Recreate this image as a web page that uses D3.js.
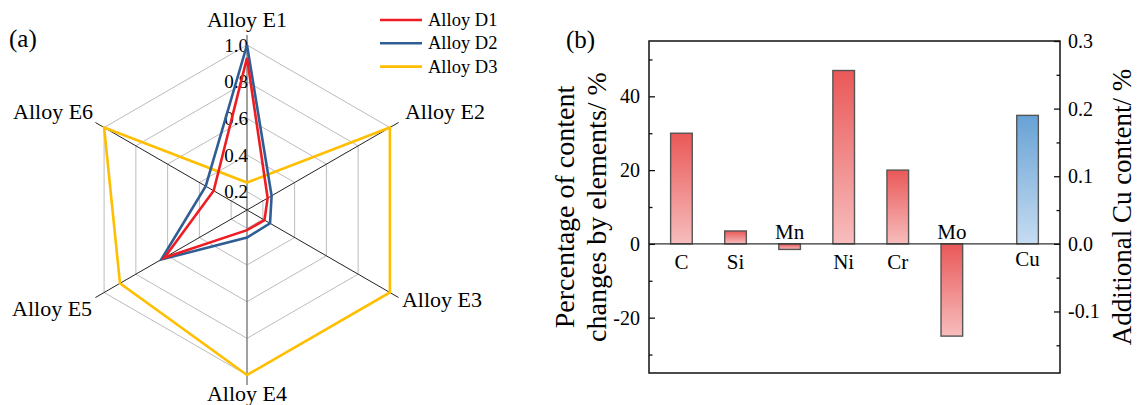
<!DOCTYPE html>
<html><head><meta charset="utf-8">
<script src="https://cdn.jsdelivr.net/npm/d3@7"></script>
<style>
body{margin:0;background:#fff}
svg{display:block}
text{font-family:"Liberation Serif","Times New Roman",serif;fill:#000}
</style>
</head><body>
<svg id="chart" width="1137" height="405"></svg>
<script>
// ---------- data: panel (a) radar ----------
const radarAxes = ["Alloy E1","Alloy E2","Alloy E3","Alloy E4","Alloy E5","Alloy E6"];
const radarSeries = ["Alloy D1","Alloy D2","Alloy D3"];
const d1Values = [0.93, 0.23, 0.21, 0.21, 0.62, 0.31];
const d2Values = [1.00, 0.255, 0.245, 0.25, 0.64, 0.36];
const d3Values = [0.25, 1.00, 1.00, 1.00, 0.90, 1.00];
const radarTicks = [0.2, 0.4, 0.6, 0.8, 1.0];
const radarTickLabels = ["0.2","0.4","0.6","0.8","1.0"];
const radarDomain = [0.1, 1.0];

// ---------- data: panel (b) bars ----------
const elements = ["C","Si","Mn","Ni","Cr","Mo"];
const elementPos = [1, 2, 3, 4, 5, 6];
const elementChange = [30, 3.5, -1.5, 47, 20, -25];
const cuLabel = "Cu";
const cuPos = 7.4;
const cuValue = 0.19;
const xDomain = [0.4, 8];
const yLeftDomain = [-35, 55];
const yRightDomain = [-0.191, 0.3];
const yLeftTicks = [-20, 0, 20, 40];
const yLeftMinor = [-30, -10, 10, 30, 50];
const yRightTicks = [-0.1, 0, 0.1, 0.2, 0.3];
const yRightMinor = [-0.15, -0.05, 0.05, 0.15, 0.25];
const leftTitle = ["Percentage of content", "changes by elements/ %"];
const rightTitle = "Additional Cu content/ %";

const svg = d3.select("#chart");

// ================= panel (a) =================
const cx = 247, cy = 210, R = 165;
const rScale = d3.scaleLinear().domain(radarDomain).range([0, R]);
const ang = i => i * Math.PI / 3;           // clockwise from 12 o'clock
const px = (i, r) => cx + r * Math.sin(ang(i));
const py = (i, r) => cy - r * Math.cos(ang(i));
const gA = svg.append("g");

const radial = d3.lineRadial()
  .angle((d, i) => ang(i))
  .radius(d => rScale(d))
  .curve(d3.curveLinearClosed);

// grid rings
radarTicks.forEach(t => {
  gA.append("path")
    .attr("transform", `translate(${cx},${cy})`)
    .attr("d", radial(radarAxes.map(() => t)))
    .attr("fill", "none").attr("stroke", "#bcbcbc").attr("stroke-width", 1);
});

// spokes
radarAxes.forEach((a, i) => {
  const vertical = (i === 0 || i === 3);
  gA.append("line")
    .attr("x1", cx).attr("y1", cy)
    .attr("x2", px(i, R + 10)).attr("y2", py(i, R + 10))
    .attr("stroke", vertical ? "#7a7a7a" : "#222")
    .attr("stroke-width", vertical ? 1.4 : 1);
});

// tick labels on E1 axis
radarTicks.forEach((t, k) => {
  gA.append("text")
    .attr("x", cx + 1).attr("y", cy - rScale(t))
    .attr("dy", "0.35em").attr("text-anchor", "end")
    .style("font-size", "19px").text(radarTickLabels[k]);
});

// axis labels
const labOff = [[0,-18,"middle"],[15,-9,"start"],[12,14,"start"],[0,26,"middle"],[-12,23,"end"],[-11,-9,"end"]];
radarAxes.forEach((a, i) => {
  gA.append("text")
    .attr("x", px(i, R) + labOff[i][0]).attr("y", py(i, R) + labOff[i][1])
    .attr("text-anchor", labOff[i][2])
    .style("font-size", "22px").text(a);
});

const seriesData = [d1Values, d2Values, d3Values];
const seriesColors = ["#ee1d23", "#2f5e94", "#ffbf00"];
[2, 1, 0].forEach(s => {
  gA.append("path")
    .attr("transform", `translate(${cx},${cy})`)
    .attr("d", radial(seriesData[s]))
    .attr("fill", "none").attr("stroke", seriesColors[s])
    .attr("stroke-width", 2.6).attr("stroke-linejoin", "miter");
});

// legend
radarSeries.forEach((name, k) => {
  const ly = 20 + k * 23.3;
  gA.append("line").attr("x1", 380).attr("x2", 422).attr("y1", ly).attr("y2", ly)
    .attr("stroke", seriesColors[k]).attr("stroke-width", 2.6);
  gA.append("text").attr("x", 428).attr("y", ly + 6)
    .style("font-size", "18.5px").text(name);
});

svg.append("text").attr("x", 9).attr("y", 47).style("font-size", "25px").text("(a)");

// ================= panel (b) =================
const L = 649, Rt = 1060, T = 41, B = 373;
const x = d3.scaleLinear().domain(xDomain).range([L, Rt]);
const yL = d3.scaleLinear().domain(yLeftDomain).range([B, T]);
const yR = d3.scaleLinear().domain(yRightDomain).range([B, T]);
const gB = svg.append("g");
const bw = x(xDomain[0] + 0.4) - x(xDomain[0]);

const defs = svg.append("defs");
const redG = defs.append("linearGradient").attr("id", "redG").attr("x1", 0).attr("y1", 0).attr("x2", 0).attr("y2", 1);
redG.append("stop").attr("offset", "0%").attr("stop-color", "#ea5858");
redG.append("stop").attr("offset", "100%").attr("stop-color", "#f7bdbd");
const blueG = defs.append("linearGradient").attr("id", "blueG").attr("x1", 0).attr("y1", 0).attr("x2", 0).attr("y2", 1);
blueG.append("stop").attr("offset", "0%").attr("stop-color", "#68a2d5");
blueG.append("stop").attr("offset", "100%").attr("stop-color", "#c6dcf1");

const y0 = yL(0);
// red bars
elements.forEach((e, i) => {
  const v = elementChange[i];
  const yt = Math.min(yL(v), y0), h = Math.abs(yL(v) - y0);
  gB.append("rect").attr("x", x(elementPos[i]) - bw / 2).attr("y", yt)
    .attr("width", bw).attr("height", h)
    .attr("fill", "url(#redG)").attr("stroke", "#555").attr("stroke-width", 1.4);
  gB.append("text").attr("x", x(elementPos[i]))
    .attr("y", v >= 0 ? y0 + 25 : y0 - 5)
    .attr("text-anchor", "middle").style("font-size", "21px").text(e);
});
// Cu bar (right axis)
gB.append("rect").attr("x", x(cuPos) - bw / 2).attr("y", yR(cuValue))
  .attr("width", bw).attr("height", yR(0) - yR(cuValue))
  .attr("fill", "url(#blueG)").attr("stroke", "#555").attr("stroke-width", 1.4);
gB.append("text").attr("x", x(cuPos)).attr("y", yR(0) + 22)
  .attr("text-anchor", "middle").style("font-size", "21px").text(cuLabel);

// zero line
gB.append("line").attr("x1", L).attr("x2", Rt).attr("y1", y0).attr("y2", y0)
  .attr("stroke", "#333").attr("stroke-width", 1.4);

// frame
gB.append("rect").attr("x", L).attr("y", T).attr("width", Rt - L).attr("height", B - T)
  .attr("fill", "none").attr("stroke", "#111").attr("stroke-width", 1.5);

// left axis
const axL = d3.axisRight(yL).tickValues(yLeftTicks).tickSize(6).tickFormat(d => String(d));
const gl = gB.append("g").attr("transform", `translate(${L},0)`).call(axL);
gl.select(".domain").remove();
gl.selectAll(".tick line").attr("stroke", "#111").attr("stroke-width", 1.3);
gl.selectAll(".tick text").attr("x", -9).attr("text-anchor", "end")
  .style("font-size", "20px").style("font-family", '"Liberation Serif",serif').attr("fill", "#000");
const glm = gB.append("g").attr("transform", `translate(${L},0)`)
  .call(d3.axisRight(yL).tickValues(yLeftMinor).tickSize(3.5).tickFormat(""));
glm.select(".domain").remove();
glm.selectAll(".tick line").attr("stroke", "#111").attr("stroke-width", 1.3);

// right axis
const axR = d3.axisLeft(yR).tickValues(yRightTicks).tickSize(6).tickFormat(d => d.toFixed(1));
const gr = gB.append("g").attr("transform", `translate(${Rt},0)`).call(axR);
gr.select(".domain").remove();
gr.selectAll(".tick line").attr("stroke", "#111").attr("stroke-width", 1.3);
gr.selectAll(".tick text").attr("x", 8).attr("text-anchor", "start")
  .style("font-size", "20px").style("font-family", '"Liberation Serif",serif').attr("fill", "#000");
const grm = gB.append("g").attr("transform", `translate(${Rt},0)`)
  .call(d3.axisLeft(yR).tickValues(yRightMinor).tickSize(3.5).tickFormat(""));
grm.select(".domain").remove();
grm.selectAll(".tick line").attr("stroke", "#111").attr("stroke-width", 1.3);

// titles
const midY = (T + B) / 2;
leftTitle.forEach((t, k) => {
  gB.append("text")
    .attr("transform", `translate(${574 + k * 32},${midY}) rotate(-90)`)
    .attr("text-anchor", "middle").style("font-size", "28px").text(t);
});
gB.append("text")
  .attr("transform", `translate(1131,${midY}) rotate(-90)`)
  .attr("text-anchor", "middle").style("font-size", "27px").text(rightTitle);

svg.append("text").attr("x", 566).attr("y", 48).style("font-size", "25px").text("(b)");
</script>
</body></html>
